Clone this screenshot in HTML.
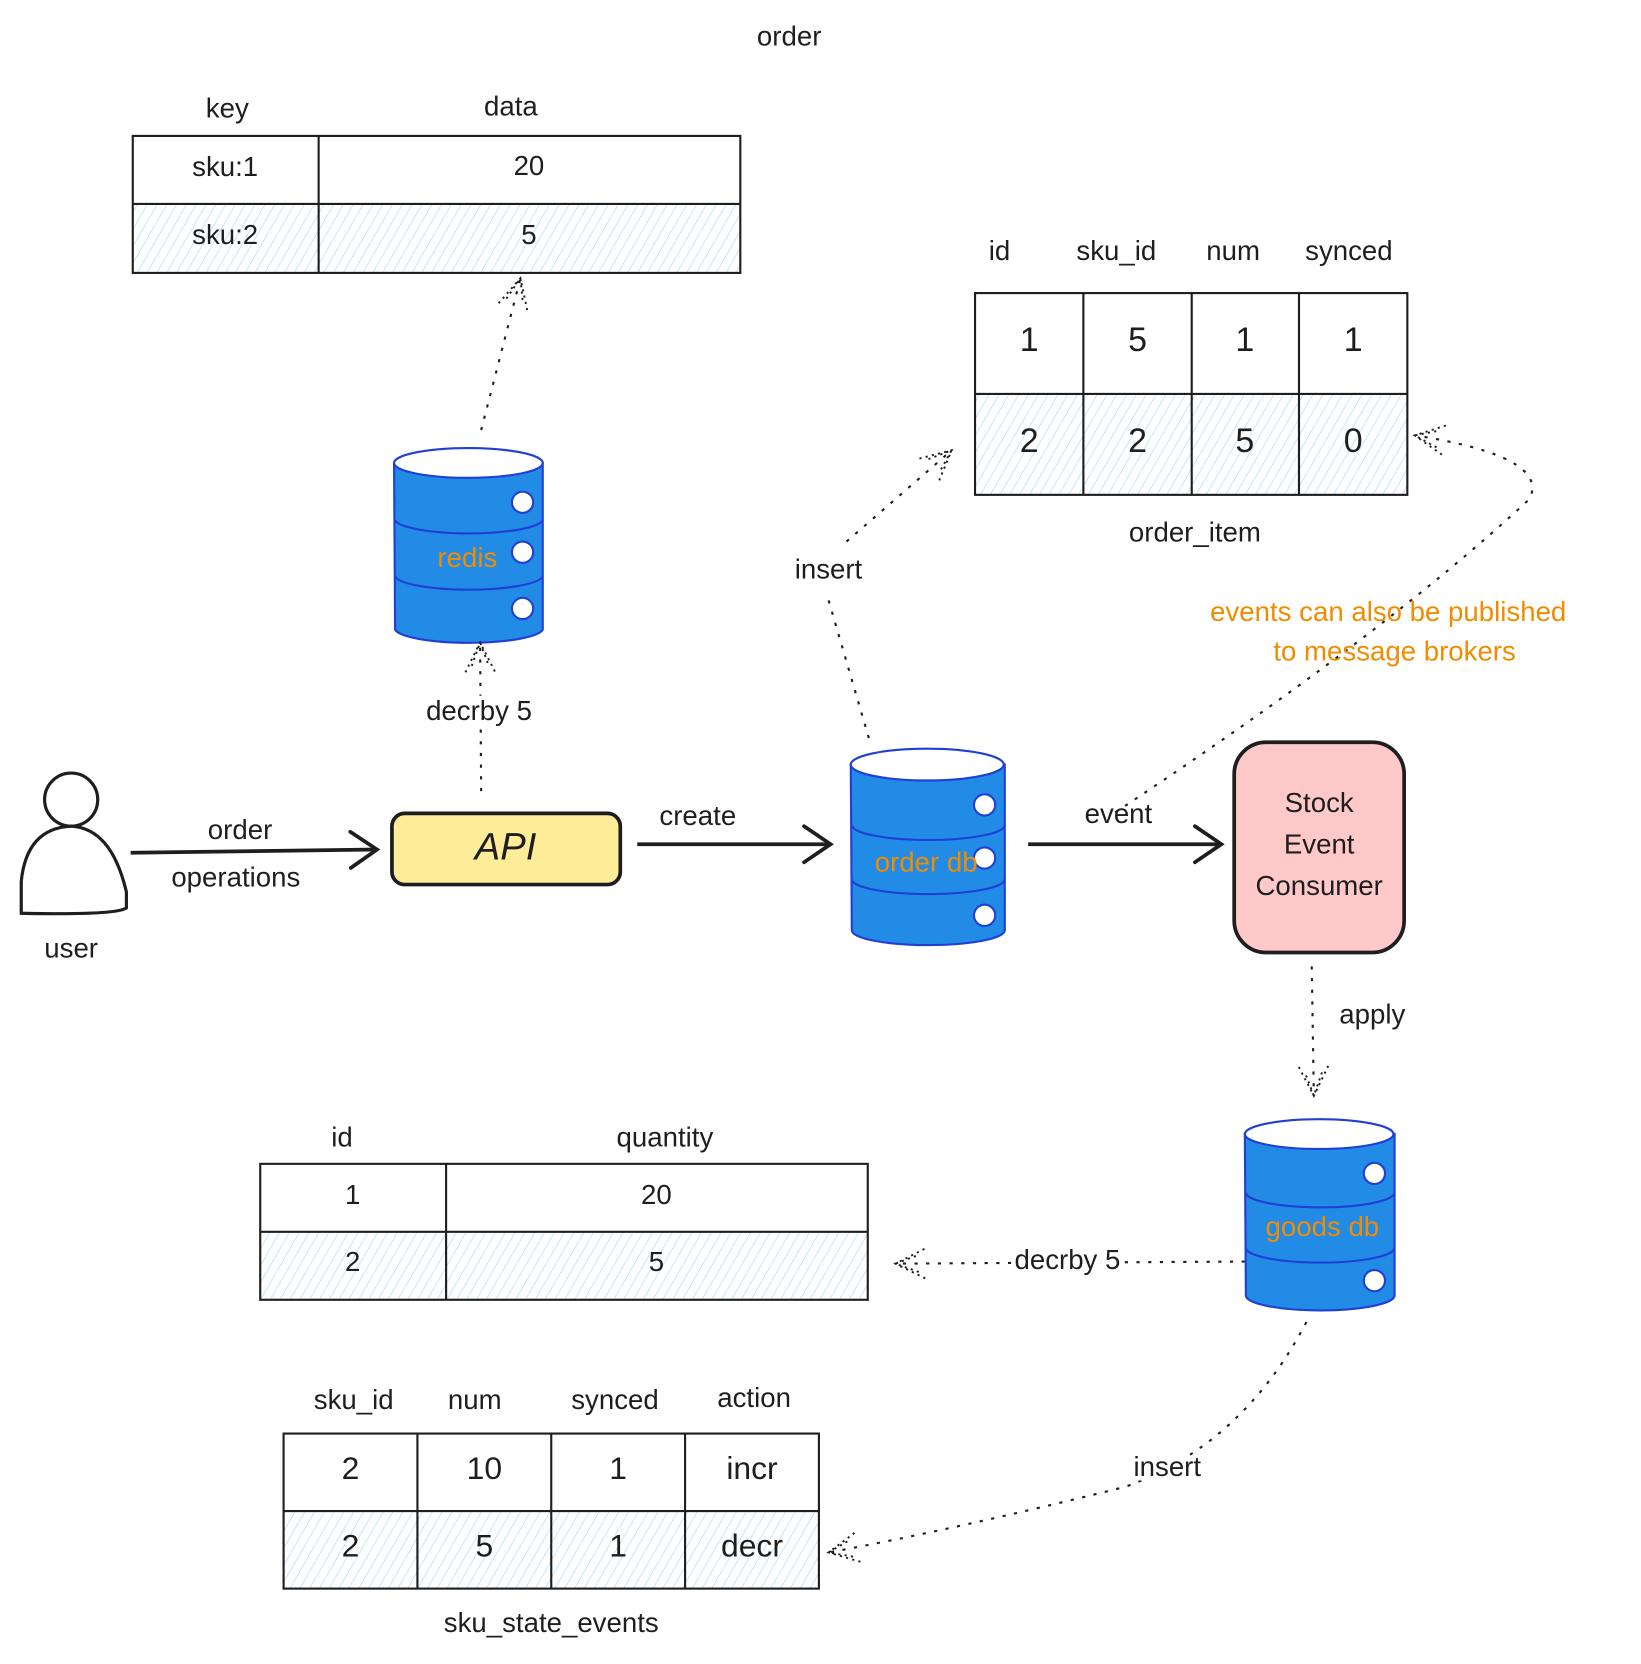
<!DOCTYPE html>
<html><head><meta charset="utf-8"><style>
html,body{margin:0;padding:0;background:#fff;}
svg{display:block;}
text{font-family:"Liberation Sans",sans-serif;fill:#1e1e1e;text-anchor:middle;dominant-baseline:middle;}
.o{fill:#f08c00;}
</style></head><body>
<svg width="1641" height="1664" viewBox="0 0 1545 1567" preserveAspectRatio="none" xmlns="http://www.w3.org/2000/svg">
<defs>
<pattern id="h" width="8" height="8" patternUnits="userSpaceOnUse" patternTransform="rotate(30)">
<rect width="8" height="8" fill="#fff"/><line x1="0" y1="0" x2="0" y2="8" stroke="#a5d8ff" stroke-width="1.2"/>
</pattern>
<marker id="a" markerWidth="40" markerHeight="40" refX="34" refY="20" orient="auto" markerUnits="userSpaceOnUse">
<path d="M6,6 L34,20 L6,34 M12,12 L34,20 L12,28" fill="none" stroke="#1e1e1e" stroke-width="1.8" stroke-dasharray="2 4"/>
</marker>
<marker id="b" markerWidth="50" markerHeight="50" refX="45" refY="25" orient="auto" markerUnits="userSpaceOnUse">
<path d="M20,8 L45,25 L20,42" fill="none" stroke="#1e1e1e" stroke-width="3.5" stroke-linecap="round"/>
</marker>
</defs>
<g font-size="26">
<text x="743" y="36">order</text>

<text x="214" y="104">key</text><text x="481" y="102">data</text>
<rect x="125" y="192" width="572" height="65" fill="url(#h)"/>
<g fill="none" stroke="#1e1e1e" stroke-width="2">
<rect x="125" y="128" width="572" height="129"/><line x1="125" y1="192" x2="697" y2="192"/><line x1="300" y1="128" x2="300" y2="257"/>
</g>
<text x="212" y="159">sku:1</text><text x="498" y="158">20</text>
<text x="212" y="223">sku:2</text><text x="498" y="223">5</text>

<g stroke="#1f3fd6" stroke-width="2">
<path d="M371,436 L372,593 A70,14 0 0 0 511,593 L511,436 Z" fill="#228be6"/>
<ellipse cx="441" cy="436" rx="70" ry="14" fill="#fff"/>
<path d="M372,490 A70,14 0 0 0 511,490 M372,543 A70,14 0 0 0 511,543" fill="none"/>
<ellipse cx="492" cy="473" rx="10" ry="10" fill="#fff"/><ellipse cx="492" cy="520" rx="10" ry="10" fill="#fff"/><ellipse cx="492" cy="573" rx="10" ry="10" fill="#fff"/>
</g>
<text class="o" x="440" y="527">redis</text>
<g fill="none" stroke="#1e1e1e" stroke-width="2" stroke-dasharray="3 8">
<path d="M453,405 L490,262" marker-end="url(#a)"/>
<path d="M453,745 L452,605" marker-end="url(#a)"/>
<path d="M818,695 L780,565"/>
<path d="M797,510 L896,424" marker-end="url(#a)"/>
<path d="M1050,765 Q1300,600 1440,470 Q1460,430 1332,410" marker-end="url(#a)"/>
<path d="M1235,910 L1237,1032" marker-end="url(#a)"/>
<path d="M1172,1188 L843,1190" marker-end="url(#a)"/>
<path d="M1230,1245 Q1170,1360 1060,1400 Q900,1440 780,1462" marker-end="url(#a)"/>
</g>
<text x="451" y="671" style="paint-order:stroke" stroke="#fff" stroke-width="8">decrby 5</text>

<g fill="#fff" stroke="#1e1e1e" stroke-width="3">
<circle cx="67" cy="753" r="25"/>
<path d="M20,860 L20,830 Q25,780 67,778 Q105,780 119,840 L119,855 Q110,862 20,860 Z"/>
</g>
<text x="67" y="895">user</text>
<path d="M123,803 L355,800" stroke="#1e1e1e" stroke-width="3.5" fill="none" marker-end="url(#b)"/>
<text x="226" y="783">order</text><text x="222" y="828">operations</text>

<rect x="369" y="766" width="215" height="67" rx="12" fill="#ffec99" stroke="#1e1e1e" stroke-width="3.5"/>
<text x="476" y="800" font-size="36" font-style="italic">API</text>

<path d="M600,795 L782,795" stroke="#1e1e1e" stroke-width="3.5" fill="none" marker-end="url(#b)"/>
<text x="657" y="770">create</text>

<g stroke="#1f3fd6" stroke-width="2">
<path d="M801,720 L802,876 A72,14 0 0 0 946,876 L946,720 Z" fill="#228be6"/>
<ellipse cx="873" cy="720" rx="72" ry="15" fill="#fff"/>
<path d="M802,777 A72,14 0 0 0 946,777 M802,828 A72,14 0 0 0 946,828" fill="none"/>
<ellipse cx="927" cy="758" rx="10" ry="10" fill="#fff"/><ellipse cx="927" cy="808" rx="10" ry="10" fill="#fff"/><ellipse cx="927" cy="862" rx="10" ry="10" fill="#fff"/>
</g>
<text class="o" x="872" y="814">order db</text>
<text x="780" y="538">insert</text>

<text x="941" y="238">id</text><text x="1051" y="238">sku_id</text><text x="1161" y="238">num</text><text x="1270" y="238">synced</text>
<rect x="918" y="371" width="407" height="95" fill="url(#h)"/>
<g fill="none" stroke="#1e1e1e" stroke-width="2">
<rect x="918" y="276" width="407" height="190"/><line x1="918" y1="371" x2="1325" y2="371"/>
<line x1="1020" y1="276" x2="1020" y2="466"/><line x1="1122" y1="276" x2="1122" y2="466"/><line x1="1223" y1="276" x2="1223" y2="466"/>
</g>
<g font-size="32"><text x="969" y="322">1</text><text x="1071" y="322">5</text><text x="1172" y="322">1</text><text x="1274" y="322">1</text>
<text x="969" y="417">2</text><text x="1071" y="417">2</text><text x="1172" y="417">5</text><text x="1274" y="417">0</text></g>
<text x="1125" y="503">order_item</text>

<path d="M968,795 L1150,795" stroke="#1e1e1e" stroke-width="3.5" fill="none" marker-end="url(#b)"/>
<text x="1053" y="768">event</text>
<rect x="1162" y="699" width="160" height="198" rx="30" fill="#ffc9c9" stroke="#1e1e1e" stroke-width="3.5"/>
<text x="1242" y="758">Stock</text><text x="1242" y="797">Event</text><text x="1242" y="836">Consumer</text>
<text class="o" x="1307" y="578">events can also be published</text>
<text class="o" x="1313" y="615">to message brokers</text>
<text x="1292" y="957">apply</text>

<g stroke="#1f3fd6" stroke-width="2">
<path d="M1172,1068 L1173,1220 A70,14 0 0 0 1313,1220 L1313,1068 Z" fill="#228be6"/>
<ellipse cx="1242" cy="1068" rx="70" ry="14" fill="#fff"/>
<path d="M1173,1123 A70,14 0 0 0 1313,1123 M1173,1175 A70,14 0 0 0 1313,1175" fill="none"/>
<ellipse cx="1294" cy="1105" rx="10" ry="10" fill="#fff"/><ellipse cx="1294" cy="1206" rx="10" ry="10" fill="#fff"/>
</g>
<text class="o" x="1245" y="1157">goods db</text>
<text x="1005" y="1188" style="paint-order:stroke" stroke="#fff" stroke-width="8">decrby 5</text>

<text x="322" y="1073">id</text><text x="626" y="1073">quantity</text>
<rect x="245" y="1160" width="572" height="64" fill="url(#h)"/>
<g fill="none" stroke="#1e1e1e" stroke-width="2">
<rect x="245" y="1096" width="572" height="128"/><line x1="245" y1="1160" x2="817" y2="1160"/><line x1="420" y1="1096" x2="420" y2="1224"/>
</g>
<text x="332" y="1127">1</text><text x="618" y="1127">20</text><text x="332" y="1190">2</text><text x="618" y="1190">5</text>

<text x="333" y="1320">sku_id</text><text x="447" y="1320">num</text><text x="579" y="1320">synced</text><text x="710" y="1318">action</text>
<rect x="267" y="1423" width="504" height="73" fill="url(#h)"/>
<g fill="none" stroke="#1e1e1e" stroke-width="2">
<rect x="267" y="1350" width="504" height="146"/><line x1="267" y1="1423" x2="771" y2="1423"/>
<line x1="393" y1="1350" x2="393" y2="1496"/><line x1="519" y1="1350" x2="519" y2="1496"/><line x1="645" y1="1350" x2="645" y2="1496"/>
</g>
<g font-size="30"><text x="330" y="1385">2</text><text x="456" y="1385">10</text><text x="582" y="1385">1</text><text x="708" y="1385">incr</text>
<text x="330" y="1458">2</text><text x="456" y="1458">5</text><text x="582" y="1458">1</text><text x="708" y="1458">decr</text></g>
<text x="1099" y="1383" style="paint-order:stroke" stroke="#fff" stroke-width="8">insert</text>
<text x="519" y="1530">sku_state_events</text>
</g>
</svg>
</body></html>
